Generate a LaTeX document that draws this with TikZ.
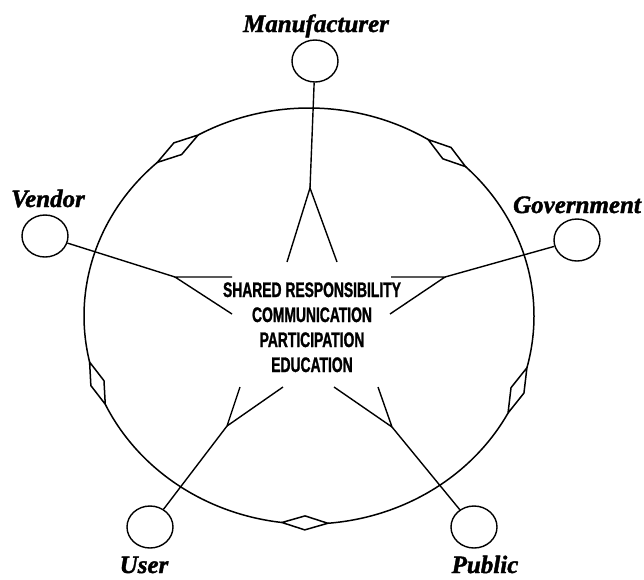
\documentclass[tikz,border=0pt]{standalone}
\usepackage{fontspec}
\setmainfont{Liberation Serif}
\newfontfamily\condfont[FakeStretch=0.66,FakeBold=1.2]{Liberation Sans}
\newfontfamily\lblfont[FakeBold=1.6]{Liberation Serif}
\usetikzlibrary{shapes.geometric,calc}
\begin{document}
\begin{tikzpicture}[x=1pt,y=-1pt,
  actor/.style={ellipse,draw,line width=1.4pt,minimum width=46pt,minimum height=42pt,inner sep=0pt},
  lbl/.style={font=\lblfont\fontsize{25}{25}\selectfont\bfseries\itshape,anchor=base,inner sep=0pt},
  ctext/.style={font=\condfont\bfseries\fontsize{21}{21}\selectfont,anchor=base,inner sep=0pt},
  spoke/.style={line width=1.4pt},
  ring/.style={line width=1.5pt}]
\useasboundingbox (0,0) rectangle (644,579);
% ring arcs
\foreach \a/\b in {-119.5/-58, -45.9/14.4, 27.8/85.2, 96.9/154.9, 167.2/227.6}{
  \draw[ring] plot[domain=\a:\b,samples=60] ({309+225*cos(\x)},{316+208*sin(\x)});
}
% diamonds
\foreach \a/\b in {-132.4/-119.5, -58/-45.9, 14.4/27.8, 85.2/96.9, 154.9/167.2}{
  \coordinate (p1) at ({309+225*cos(\a)},{316+208*sin(\a)});
  \coordinate (p2) at ({309+225*cos(\b)},{316+208*sin(\b)});
  \coordinate (mm) at ($(p1)!0.5!(p2)$);
  \draw[ring,line join=miter] (p1) -- ($(mm)!7pt!90:(p2)$) -- (p2) -- ($(mm)!7pt!-90:(p2)$) -- cycle;
}
% actors
\node[actor] (mfr) at (315,61) {};
\node[actor] (vnd) at (45,236) {};
\node[actor] (gov) at (577,240) {};
\node[actor] (usr) at (150,527) {};
\node[actor] (pub) at (474,527) {};
% labels
\node[lbl] (lmfr) at (316,32) {Manufacturer};
\node[lbl] (lvnd) at (48,207) {Vendor};
\node[lbl] (lgov) at (577,213) {Government};
\node[lbl] (lusr) at (144,573) {User};
\node[lbl] (lpub) at (485,573) {Public};
% split points and ends
\coordinate (ms) at (310,188); \coordinate (ma) at (287,262); \coordinate (mb) at (337,262);
\coordinate (vs) at (175,277); \coordinate (va) at (232,277); \coordinate (vb) at (232,314);
\coordinate (gs) at (445,277); \coordinate (ga) at (391,277); \coordinate (gb) at (390,314);
\coordinate (us) at (227,426); \coordinate (ua) at (240,387); \coordinate (ub) at (283,387);
\coordinate (ps) at (392,427); \coordinate (pa) at (378,387); \coordinate (pb) at (334,387);
\draw[spoke] (mfr) -- (ms); \draw[spoke] (ma) -- (ms) -- (mb);
\draw[spoke] (vnd) -- (vs); \draw[spoke] (va) -- (vs) -- (vb);
\draw[spoke] (gov) -- (gs); \draw[spoke] (ga) -- (gs) -- (gb);
\draw[spoke] (usr) -- (us); \draw[spoke] (ua) -- (us) -- (ub);
\draw[spoke] (pub) -- (ps); \draw[spoke] (pa) -- (ps) -- (pb);
% centre text
\node[ctext] (t1) at (312,297) {SHARED RESPONSIBILITY};
\node[ctext] (t2) at (312,322) {COMMUNICATION};
\node[ctext] (t3) at (312,347) {PARTICIPATION};
\node[ctext] (t4) at (312,372) {EDUCATION};
\end{tikzpicture}
\end{document}
